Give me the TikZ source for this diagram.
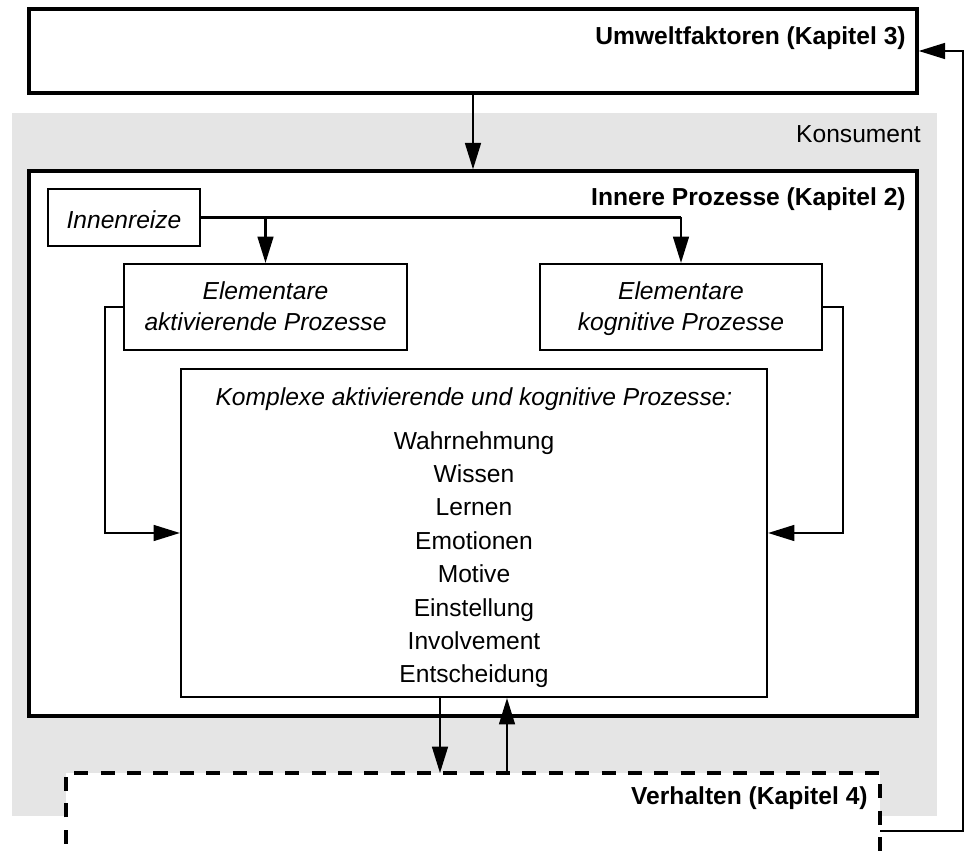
\documentclass[tikz,border=0pt]{standalone}
\usepackage{fontspec}
\setmainfont{Liberation Sans}
\usetikzlibrary{arrows.meta,fit}

\definecolor{consumergray}{gray}{0.898}

\tikzset{
  heavybox/.style={draw, line width=1.9pt, inner sep=0pt},
  lightbox/.style={draw, fill=white, line width=1.2pt, inner sep=0pt},
  title/.style={inner sep=0pt, anchor=base east, font=\fontsize{14}{17}\selectfont\bfseries},
  plain/.style={inner sep=0pt, anchor=base, font=\fontsize{14}{17}\selectfont},
  slanted/.style={inner sep=0pt, anchor=base, font=\fontsize{14}{17}\selectfont\itshape},
  link/.style={line width=1.2pt, -{Triangle[length=15pt,width=9pt]}},
  wire/.style={line width=1.2pt},
}

\begin{document}
\begin{tikzpicture}[x=0.02cm, y=-0.02cm]
\useasboundingbox (0,0) rectangle (965,854);
\begin{scope}
\clip (0,0) rectangle (965,854);

% consumer area
\fill[consumergray] (12,113) rectangle (937,816);
\node[plain, anchor=base east] (konsument) at (921,143) {Konsument};

% environment
\node[heavybox, fill=white, fit={(29,9) (917,93)}] (umwelt) {};
\node[title] (umwelttitle) at (906,45) {Umweltfaktoren (Kapitel 3)};

% inner processes
\node[heavybox, fill=white, fit={(29,171) (917,716)}] (innere) {};
\node[title] (inneretitle) at (906,206) {Innere Prozesse (Kapitel 2)};

\node[lightbox, fit={(48,189) (200,246)}] (reize) {};
\node[slanted] (reizetext) at (124,229) {Innenreize};

\node[lightbox, fit={(124,264) (407,350)}] (aktiv) {};
\node[slanted] (aktivtext1) at (265.5,300) {Elementare};
\node[slanted] (aktivtext2) at (265.5,331) {aktivierende Prozesse};

\node[lightbox, fit={(540,264) (822,350)}] (kogn) {};
\node[slanted] (kogntext1) at (681,300) {Elementare};
\node[slanted] (kogntext2) at (681,331) {kognitive Prozesse};

\node[lightbox, fit={(181,369) (767,697)}] (komplex) {};
\node[slanted] (komplextitle) at (474,406)
  {Komplexe aktivierende und kognitive Prozesse:};
\foreach \name [count=\i from 0] in {Wahrnehmung,Wissen,Lernen,Emotionen,Motive,Einstellung,Involvement,Entscheidung}
  \node[plain] (item\i) at (474,{449.2+33.4*\i}) {\name};

% behaviour (open at the bottom)
\fill[white] (66,773) rectangle (880,870);
\draw[line width=1.9pt, dash pattern=on 8pt off 7pt] (66,870) -- (66,773) -- (880,773) -- (880,870);
\coordinate (verhaltenL) at (440,773);
\coordinate (verhaltenR) at (507,773);
\coordinate (verhaltenE) at (880,831);
\node[title] (verhaltentitle) at (868,805) {Verhalten (Kapitel 4)};

% connectors
\draw[link] (umwelt.south) -- (innere.north);
\draw[wire] (reize.east) -- (kogn.north |- reize.east) coordinate (split);
\draw[link] (split) -- (kogn.north);
\draw[link] (aktiv.north |- reize.east) coordinate (branch) -- (aktiv.north);
\draw[link] (aktiv.west) -- (105,307) |- (komplex.west);
\draw[link] (kogn.east) -- (843,307) |- (komplex.east);
\draw[link] (komplex.south -| verhaltenL) -- (verhaltenL);
\draw[link] (verhaltenR) -- (komplex.south -| verhaltenR);
\draw[link] (verhaltenE) -- (963,831) |- (umwelt.east);
\end{scope}
\end{tikzpicture}
\end{document}
